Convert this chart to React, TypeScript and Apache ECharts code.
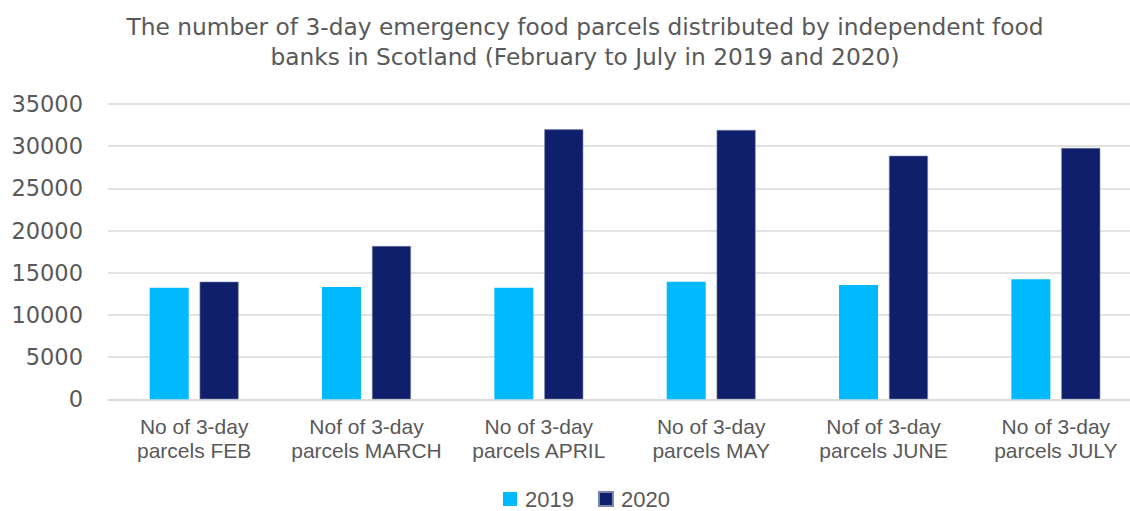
import React, { useEffect, useRef } from "react";
import * as echarts from "echarts";

const categories = [
  "No of 3-day\nparcels FEB",
  "Nof of 3-day\nparcels MARCH",
  "No of 3-day\nparcels APRIL",
  "No of 3-day\nparcels MAY",
  "Nof of 3-day\nparcels JUNE",
  "No of 3-day\nparcels JULY",
];
const values2019 = [13230, 13310, 13230, 13940, 13550, 14220];
const values2020 = [13940, 18170, 32000, 31920, 28870, 29790];
const yTicks = { min: 0, max: 35000, interval: 5000 };
const titleText =
  "The number of 3-day emergency food parcels distributed by independent food\nbanks in Scotland (February to July in 2019 and 2020)";

const FONT = "Liberation Sans, Arial, sans-serif";
const WIDE = "DejaVu Sans, sans-serif";
const GREY = "#595959";

export default function App() {
  const ref = useRef<HTMLDivElement>(null);
  useEffect(() => {
    document.body.style.margin = "0";
    const chart = echarts.init(ref.current!, undefined, { renderer: "svg" });
    chart.setOption({
      animation: false,
      backgroundColor: "#ffffff",
      title: {
        text: titleText,
        left: 580,
        textAlign: "center",
        top: 6,
        textStyle: {
          fontFamily: WIDE,
          fontSize: 23.3,
          fontWeight: "normal",
          color: GREY,
          lineHeight: 30,
        },
      },
      legend: {
        top: 488,
        left: 503,
        padding: 0,
        itemWidth: 14,
        itemHeight: 14,
        itemGap: 24,
        icon: "rect",
        textStyle: {
          fontFamily: FONT,
          fontSize: 22,
          lineHeight: 22,
          color: GREY,
          padding: [0, 0, 0, 3],
        },
        data: ["2019", "2020"],
      },
      grid: { left: 108, right: 0, top: 104, bottom: 111.7, containLabel: false },
      xAxis: {
        type: "category",
        data: categories,
        axisLine: { show: true, lineStyle: { color: "#d9d9d9", width: 1.5 } },
        axisTick: { show: false },
        axisLabel: {
          interval: 0,
          fontFamily: FONT,
          fontSize: 21,
          color: GREY,
          lineHeight: 24,
          margin: 15,
        },
      },
      yAxis: {
        type: "value",
        min: yTicks.min,
        max: yTicks.max,
        interval: yTicks.interval,
        axisLine: { show: false },
        axisTick: { show: false },
        splitLine: { lineStyle: { color: "#d9d9d9", width: 1.5 } },
        axisLabel: {
          fontFamily: WIDE,
          fontSize: 22.5,
          color: GREY,
          margin: 25,
          formatter: (v: number) => String(v),
        },
      },
      series: [
        {
          name: "2019",
          type: "bar",
          data: values2019,
          barWidth: 39,
          barGap: "28%",
          itemStyle: { color: "#00B9FF" },
        },
        {
          name: "2020",
          type: "bar",
          data: values2020,
          barWidth: 39,
          itemStyle: { color: "#0F1F6B", borderColor: "#7C86A8", borderWidth: 0.6 },
        },
      ],
    });
    return () => chart.dispose();
  }, []);
  return (
    <div style={{ width: 1130, height: 511, overflow: "hidden", position: "relative" }}>
      <div ref={ref} style={{ width: 1142, height: 511 }} />
    </div>
  );
}
